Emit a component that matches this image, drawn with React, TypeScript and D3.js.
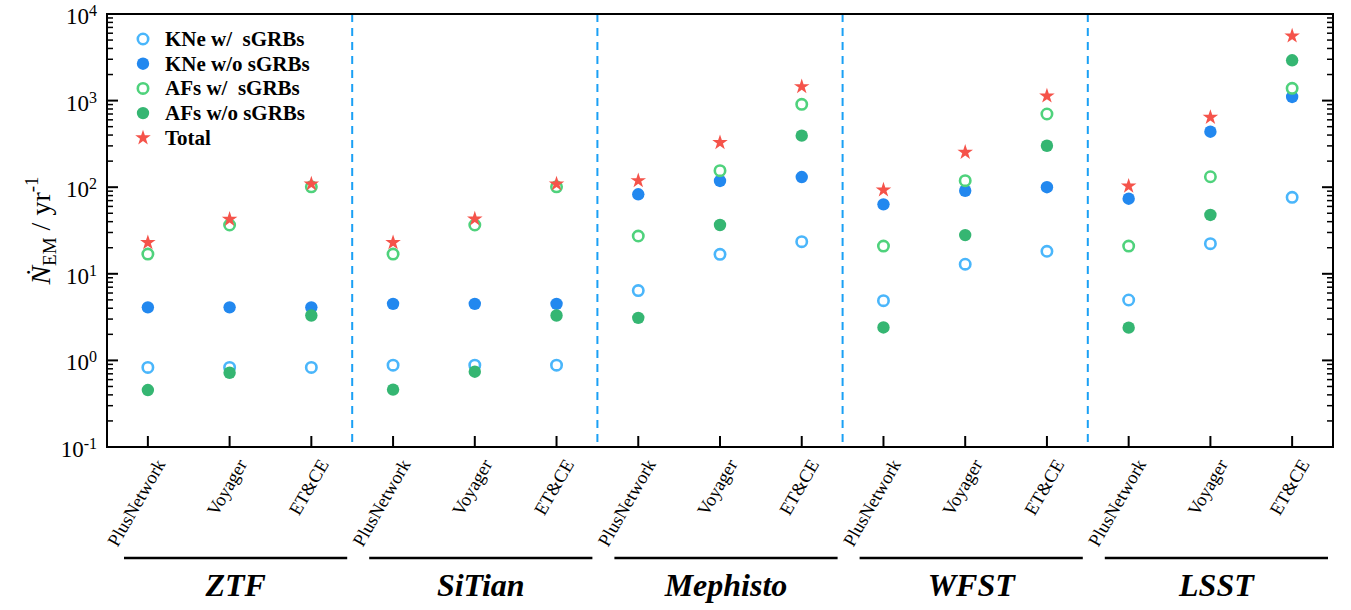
import React from 'react';
import * as d3 from 'd3';

const facilities = ['ZTF', 'SiTian', 'Mephisto', 'WFST', 'LSST'];
const detectors = ['PlusNetwork', 'Voyager', 'ET&CE'];

const kneWith = [0.83, 0.83, 0.83, 0.88, 0.88, 0.88, 6.4, 16.8, 23.5, 4.9, 12.9, 18.2, 4.98, 22.3, 76.4];
const kneWithout = [4.1, 4.1, 4.1, 4.5, 4.5, 4.5, 82.8, 118, 131, 63.4, 91, 100, 73.6, 437, 1101];
const afWith = [16.9, 36.6, 101, 16.9, 36.6, 101, 27.3, 155, 906, 20.9, 119, 700, 20.9, 132, 1387];
const afWithout = [0.455, 0.72, 3.3, 0.46, 0.74, 3.3, 3.1, 36.6, 394, 2.4, 28, 301, 2.39, 47.8, 2920];
const total = [22.9, 42.6, 109, 22.9, 43, 109, 119, 327, 1449, 92.9, 253, 1130, 103, 641, 5570];

const yTickValues = [0.1, 1, 10, 100, 1000, 10000];
const yTickExponents = ['-1', '0', '1', '2', '3', '4'];

const seriesNames = ['KNe w/  sGRBs', 'KNe w/o sGRBs', 'AFs w/  sGRBs', 'AFs w/o sGRBs', 'Total'];

const W = 1351;
const H = 610;
const L = 107, R = 1333, T = 14, B = 447;
const SERIF = '"Liberation Serif", "Times New Roman", "DejaVu Serif", serif';

type Series = { name: string; values: number[]; kind: 'open' | 'filled' | 'star'; color: string };

const series: Series[] = [
  { name: seriesNames[0], values: kneWith, kind: 'open', color: '#4ab6fb' },
  { name: seriesNames[1], values: kneWithout, kind: 'filled', color: '#2288ef' },
  { name: seriesNames[2], values: afWith, kind: 'open', color: '#4fd27c' },
  { name: seriesNames[3], values: afWithout, kind: 'filled', color: '#35b672' },
  { name: seriesNames[4], values: total, kind: 'star', color: '#f5534a' },
];

const categories = facilities.flatMap((f) => detectors.map((d) => `${f}|${d}`));

export default function App() {
  const x = d3.scaleBand<string>().domain(categories).range([L, R]).padding(0);
  const y = d3.scaleLog().domain([0.1, 10000]).range([B, T]);
  const cx = (i: number) => (x(categories[i]) as number) + x.bandwidth() / 2;
  const star = d3.symbol().type(d3.symbolStar).size(75)();

  const minorTicks: number[] = [];
  for (let e = -1; e < 4; e++) {
    for (let m = 2; m <= 9; m++) minorTicks.push(m * Math.pow(10, e));
  }

  const marker = (s: Series, px: number, py: number, key: string) => {
    if (s.kind === 'open')
      return <circle key={key} cx={px} cy={py} r={5.2} fill="#fff" stroke={s.color} strokeWidth={2.6} />;
    if (s.kind === 'filled') return <circle key={key} cx={px} cy={py} r={6.2} fill={s.color} />;
    return <path key={key} d={star as string} transform={`translate(${px},${py})`} fill={s.color} />;
  };

  const groupWidth = x.bandwidth() * detectors.length;

  return (
    <svg width={W} height={H} style={{ position: 'absolute', left: 0, top: 0, background: '#fff' }}>
      {/* separators */}
      {facilities.slice(1).map((f) => {
        const gx = x(`${f}|${detectors[0]}`) as number;
        return (
          <line key={f} x1={gx} x2={gx} y1={T} y2={B} stroke="#1aa0f5" strokeWidth={2} strokeDasharray="8,6" />
        );
      })}

      {/* data */}
      {series.map((s, si) => s.values.map((v, i) => marker(s, cx(i), y(v), `${si}-${i}`)))}

      {/* frame */}
      <rect x={L} y={T} width={R - L} height={B - T} fill="none" stroke="#000" strokeWidth={2} />

      {/* y ticks */}
      {yTickValues.map((v) => (
        <g key={v}>
          <line x1={L} x2={L + 11} y1={y(v)} y2={y(v)} stroke="#000" strokeWidth={2} />
          <line x1={R} x2={R - 11} y1={y(v)} y2={y(v)} stroke="#000" strokeWidth={2} />
        </g>
      ))}
      {minorTicks.map((v) => (
        <g key={'m' + v}>
          <line x1={L} x2={L + 6} y1={y(v)} y2={y(v)} stroke="#000" strokeWidth={1.5} />
          <line x1={R} x2={R - 6} y1={y(v)} y2={y(v)} stroke="#000" strokeWidth={1.5} />
        </g>
      ))}
      {yTickValues.map((v, i) => (
        <text key={'l' + v} x={97} y={y(v) + 10} textAnchor="end" fontFamily={SERIF} fontSize={23} fill="#000">
          <tspan>10</tspan>
          <tspan fontSize={16} dy={-8}>{yTickExponents[i]}</tspan>
        </text>
      ))}

      {/* x ticks */}
      {categories.map((c, i) => (
        <g key={c}>
          <line x1={cx(i)} x2={cx(i)} y1={B} y2={B - 11} stroke="#000" strokeWidth={2} />
          <text
            transform={`translate(${cx(i) + 18},${464}) rotate(-60)`}
            textAnchor="end"
            fontFamily={SERIF}
            fontSize={18.5}
            fill="#000"
          >
            {c.split('|')[1]}
          </text>
        </g>
      ))}

      {/* group labels */}
      {facilities.map((f) => {
        const gx = x(`${f}|${detectors[0]}`) as number;
        const x1 = gx + 17;
        const x2 = gx + groupWidth - 5;
        return (
          <g key={'g' + f}>
            <line x1={x1} x2={x2} y1={558} y2={558} stroke="#000" strokeWidth={2.5} />
            <text
              x={(x1 + x2) / 2}
              y={596}
              textAnchor="middle"
              fontFamily={SERIF}
              fontSize={32}
              fontWeight="bold"
              fontStyle="italic"
              fill="#000"
            >
              {f}
            </text>
          </g>
        );
      })}

      {/* y label */}
      <text transform={`translate(50,${(T + B) / 2}) rotate(-90)`} textAnchor="middle" fontFamily={SERIF} fontSize={28} fill="#000">
        <tspan fontStyle="italic">Ṅ</tspan>
        <tspan fontSize={19} dy={6}>EM</tspan>
        <tspan dy={-6}> / yr</tspan>
        <tspan fontSize={19} dy={-12}>-1</tspan>
      </text>

      {/* legend */}
      {series.map((s, i) => {
        const ly = 39 + i * 24.7;
        return (
          <g key={'lg' + i}>
            {marker(s, 143, ly, 'lm' + i)}
            <text x={165} y={ly + 7} fontFamily={SERIF} fontSize={21} fontWeight="bold" fill="#000" style={{ whiteSpace: 'pre' }}>
              {s.name}
            </text>
          </g>
        );
      })}
    </svg>
  );
}
